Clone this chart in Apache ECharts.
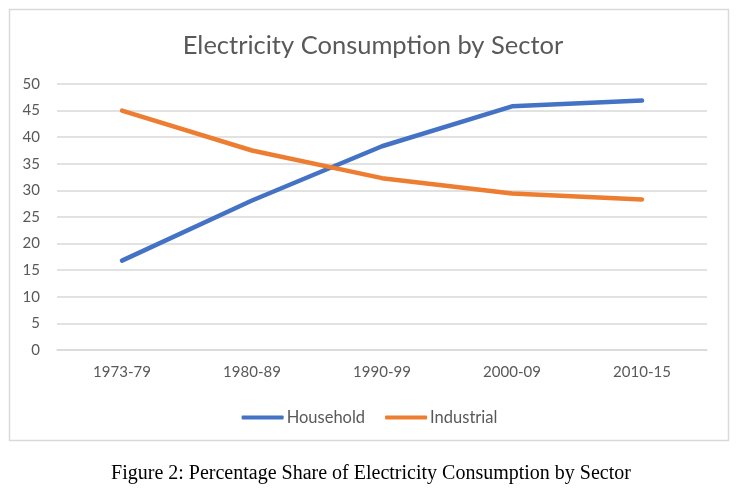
<!DOCTYPE html>
<html>
<head>
<meta charset="utf-8">
<script src="https://cdn.jsdelivr.net/npm/echarts@6/dist/echarts.min.js"></script>
<style>
html,body{margin:0;padding:0;background:#fff;}
#c{width:739px;height:494px;}
</style>
</head>
<body>
<div id="c"></div>
<script>
const categories = ['1973-79', '1980-89', '1990-99', '2000-09', '2010-15'];
const household = [16.8, 28.1, 38.3, 45.8, 46.9];
const industrial = [45.0, 37.5, 32.3, 29.4, 28.3];
const seriesNames = ['Household', 'Industrial'];
const chartTitle = 'Electricity Consumption by Sector';
const caption = 'Figure 2: Percentage Share of Electricity Consumption by Sector';

const chart = echarts.init(document.getElementById('c'), null, {renderer: 'canvas'});
const labelColor = '#595959';
const uiFont = 'Lato';
chart.setOption({
  animation: false,
  backgroundColor: '#ffffff',
  graphic: [{
    type: 'rect',
    shape: {x: 9.5, y: 9.5, width: 719, height: 431},
    style: {fill: 'none', stroke: '#d9d9d9', lineWidth: 1.5},
    silent: true, z: -1
  }],
  title: [{
    text: chartTitle,
    left: 368, top: 28, textAlign: 'center',
    textStyle: {fontFamily: uiFont, fontSize: 25.5, fontWeight: 'normal', color: labelColor}
  }, {
    text: caption,
    left: 366, top: 459, textAlign: 'center',
    textStyle: {fontFamily: 'Liberation Serif', fontSize: 20, fontWeight: 'normal', color: '#000'}
  }],
  legend: {
    data: seriesNames,
    left: 'center', top: 404,
    icon: 'roundRect',
    itemWidth: 42, itemHeight: 4,
    itemGap: 20,
    textStyle: {fontFamily: uiFont, fontSize: 16.5, color: labelColor, padding: [0,0,0,-2]}
  },
  grid: {left: 57, right: 32, top: 84, bottom: 144, containLabel: false},
  xAxis: {
    type: 'category',
    data: categories,
    boundaryGap: true,
    axisLine: {show: true, lineStyle: {color: '#d9d9d9', width: 1.5}},
    axisTick: {show: false},
    axisLabel: {fontFamily: uiFont, fontSize: 15, color: labelColor, margin: 15}
  },
  yAxis: {
    type: 'value',
    min: 0, max: 50, interval: 5,
    axisLine: {show: false},
    axisTick: {show: false},
    axisLabel: {fontFamily: uiFont, fontSize: 15, color: labelColor, margin: 17},
    splitLine: {lineStyle: {color: '#d9d9d9', width: 1.5}}
  },
  series: [{
    name: seriesNames[0], type: 'line', data: household,
    symbol: 'none', color: '#4472C4',
    lineStyle: {width: 4.5, color: '#4472C4', cap: 'round', join: 'round'}
  }, {
    name: seriesNames[1], type: 'line', data: industrial,
    symbol: 'none', color: '#ED7D31',
    lineStyle: {width: 4.5, color: '#ED7D31', cap: 'round', join: 'round'}
  }]
});
</script>
</body>
</html>
